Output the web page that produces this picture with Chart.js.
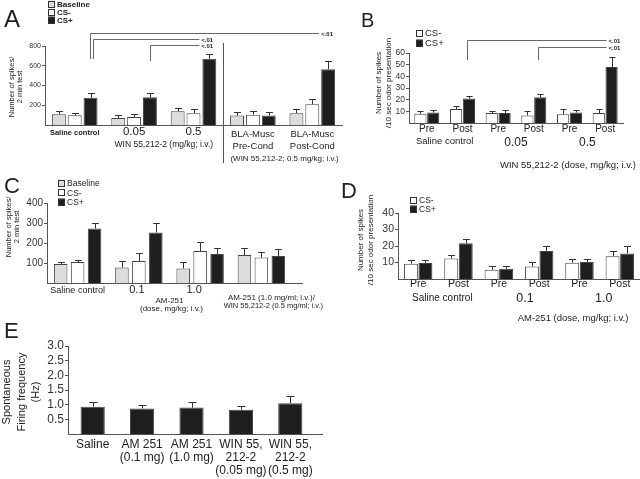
<!DOCTYPE html>
<html>
<head>
<meta charset="utf-8">
<script src="https://cdn.jsdelivr.net/npm/chart.js@4.4.0/dist/chart.umd.min.js"></script>
<style>
  body { margin: 0; background: #fff; }
  #wrap { position: relative; width: 640px; height: 479px; overflow: hidden; }
  #wrap canvas { position: absolute; left: 0; top: 0; }
</style>
</head>
<body>
<div id="wrap">
  <canvas id="cA" width="640" height="479"></canvas>
  <canvas id="cB" width="640" height="479"></canvas>
  <canvas id="cC" width="640" height="479"></canvas>
  <canvas id="cD" width="640" height="479"></canvas>
  <canvas id="cE" width="640" height="479"></canvas>
</div>
<script>
// ---- Panel A : WIN 55,212-2, number of spikes / 2 min test
const aGroups = [['Saline control'], ['0.05'], ['0.5'], ['BLA-Musc', 'Pre-Cond'], ['BLA-Musc', 'Post-Cond']];
const aTicks = [200, 400, 600, 800];
const aBaseline = [110, 70, 140, 95, 120];
const aBaselineErr = [28, 28, 35, 35, 45];
const aCsMinus = [100, 80, 120, 105, 210];
const aCsMinusErr = [20, 30, 45, 35, 55];
const aCsPlus = [275, 280, 670, 95, 565];
const aCsPlusErr = [50, 48, 50, 35, 80];

// ---- Panel B : WIN 55,212-2, spikes / 10 sec odor
const bPhases = ['Pre', 'Post', 'Pre', 'Post', 'Pre', 'Post'];
const bGroups = ['Saline control', '0.05', '0.5'];
const bTicks = [10, 20, 30, 40, 50, 60];
const bCsMinus = [8, 12, 8.5, 6.5, 7.5, 8.5];
const bCsMinusErr = [2.5, 2.5, 2, 4, 4.5, 3.5];
const bCsPlus = [9, 21, 8.5, 22, 9, 48];
const bCsPlusErr = [2, 2.5, 3, 3, 2.5, 9];

// ---- Panel C : AM-251, number of spikes / 2 min test
const cGroups = ['Saline control', '0.1', '1.0', 'AM-251/WIN'];
const cTicks = [100, 200, 300, 400];
const cBaseline = [95, 77, 73, 140];
const cBaselineErr = [8, 33, 30, 37];
const cCsMinus = [105, 110, 160, 127];
const cCsMinusErr = [8, 38, 43, 27];
const cCsPlus = [273, 252, 145, 135];
const cCsPlusErr = [27, 46, 28, 33];

// ---- Panel D : AM-251, spikes / 10 sec odor
const dPhases = ['Pre', 'Post', 'Pre', 'Post', 'Pre', 'Post'];
const dGroups = ['Saline control', '0.1', '1.0'];
const dTicks = [10, 20, 30, 40];
const dCsMinus = [9.3, 12.4, 5.6, 7.6, 9.9, 13.8];
const dCsMinusErr = [2, 2, 2.2, 2.7, 2.5, 3.1];
const dCsPlus = [9.7, 21.6, 6.2, 17, 10.3, 15.5];
const dCsPlusErr = [2.1, 2.4, 1.8, 3.1, 2.1, 4.5];

// ---- Panel E : spontaneous firing frequency
const eLabels = [['Saline'], ['AM 251', '(0.1 mg)'], ['AM 251', '(1.0 mg)'], ['WIN 55,', '212-2', '(0.05 mg)'], ['WIN 55,', '212-2', '(0.5 mg)']];
const eTicks = [0.5, 1.0, 1.5, 2.0, 2.5, 3.0];
const eRate = [0.93, 0.87, 0.9, 0.83, 1.05];
const eRateErr = [0.15, 0.13, 0.18, 0.14, 0.25];

const FONT = '"Liberation Sans", Arial, sans-serif';
const BASE_FILL = '#dcdcdc';
const MINUS_FILL = '#ffffff';
const PLUS_FILL = '#1e1e1e';
const INK = '#222';
const AXIS = '#555';

function font(size, bold) {
  return (bold ? 'bold ' : '') + size + 'px ' + FONT;
}

function txt(ctx, s, x, y, size, align, bold) {
  ctx.font = font(size, bold);
  ctx.textAlign = align || 'center';
  ctx.textBaseline = 'alphabetic';
  ctx.fillStyle = INK;
  ctx.fillText(s, x, y);
}

// rotated axis title, one column per line
function vtxt(ctx, lines, x0, gap, cy, size) {
  lines.forEach((s, i) => {
    ctx.save();
    ctx.translate(x0 + i * gap, cy);
    ctx.rotate(-Math.PI / 2);
    ctx.font = font(size);
    ctx.textAlign = 'center';
    ctx.textBaseline = 'middle';
    ctx.fillStyle = INK;
    ctx.fillText(s, 0, 0);
    ctx.restore();
  });
}

function bracket(ctx, x1, x2, yTop, yBot, label, size) {
  ctx.strokeStyle = '#666';
  ctx.lineWidth = 1;
  ctx.beginPath();
  ctx.moveTo(Math.round(x1) + 0.5, yBot);
  ctx.lineTo(Math.round(x1) + 0.5, yTop + 0.5);
  ctx.lineTo(x2, yTop + 0.5);
  ctx.stroke();
  ctx.font = font(size, true);
  ctx.textAlign = 'left';
  ctx.textBaseline = 'middle';
  ctx.fillStyle = INK;
  ctx.fillText(label, x2 + 2, yTop + 1);
}

function extendAxis(chart, toX) {
  const ctx = chart.ctx, a = chart.chartArea;
  ctx.strokeStyle = AXIS;
  ctx.lineWidth = 1;
  ctx.beginPath();
  ctx.moveTo(a.right, Math.round(a.bottom) + 0.5);
  ctx.lineTo(toX, Math.round(a.bottom) + 0.5);
  ctx.stroke();
}

// upper error bars from each dataset's errors array
const errorBars = {
  id: 'errorBars',
  afterDatasetsDraw(chart) {
    const ctx = chart.ctx, y = chart.scales.y;
    ctx.save();
    ctx.strokeStyle = '#333';
    ctx.lineWidth = 1;
    chart.data.datasets.forEach((ds, i) => {
      chart.getDatasetMeta(i).data.forEach((bar, j) => {
        const top = Math.round(y.getPixelForValue(ds.data[j] + ds.errors[j])) + 0.5;
        const x = Math.round(bar.x) + 0.5;
        const cap = Math.max(2, Math.min(4, bar.width / 4));
        ctx.beginPath();
        ctx.moveTo(x, bar.y);
        ctx.lineTo(x, top);
        ctx.moveTo(x - cap, top);
        ctx.lineTo(x + cap, top);
        ctx.stroke();
      });
    });
    ctx.restore();
  }
};

// small square legend, stacked vertically
const boxLegend = {
  id: 'boxLegend',
  afterDraw(chart, args, o) {
    const ctx = chart.ctx;
    chart.data.datasets.forEach((ds, i) => {
      const cy = o.y + i * o.gap;
      ctx.fillStyle = ds.backgroundColor;
      ctx.fillRect(o.x, cy - o.box / 2, o.box, o.box);
      ctx.strokeStyle = '#333';
      ctx.lineWidth = 1;
      ctx.strokeRect(o.x + 0.5, Math.round(cy - o.box / 2) + 0.5, o.box - 1, o.box - 1);
      txt(ctx, ds.label, o.x + o.box + 2, cy + o.size * 0.36, o.size, 'left', o.bold);
    });
  }
};

function yAxis(max, ticks, size, fmt) {
  return {
    min: 0,
    max: max,
    afterBuildTicks: s => { s.ticks = ticks.map(v => ({ value: v })); },
    afterFit: s => { s.width = 40; },
    ticks: { font: { family: FONT, size: size }, color: '#333', padding: 1, callback: fmt || (v => v) },
    grid: { drawOnChartArea: false, drawTicks: true, tickLength: 3, color: AXIS },
    border: { color: AXIS, width: 1 }
  };
}

function xAxis() {
  return {
    ticks: { display: false },
    grid: { display: false },
    border: { color: AXIS, width: 1 },
    afterFit: s => { s.height = 0; }
  };
}

function opts(p) {
  return {
    responsive: false,
    animation: false,
    devicePixelRatio: 1,
    layout: { padding: p.padding },
    datasets: { bar: { categoryPercentage: p.cat, barPercentage: p.bar, borderColor: '#444', borderWidth: 1 } },
    plugins: { legend: { display: false }, tooltip: { enabled: false }, boxLegend: p.legend || false },
    scales: { x: xAxis(), y: yAxis(p.yMax, p.yTicks, p.tickSize, p.fmt) }
  };
}

// ---------------- Panel A
const panelA = {
  id: 'panelA',
  afterDraw(chart) {
    const ctx = chart.ctx, xs = chart.scales.x, b = chart.chartArea.bottom;
    const cx = i => xs.getPixelForValue(i);
    const plus = chart.getDatasetMeta(2).data;
    txt(ctx, 'A', 4, 27, 24, 'left');
    vtxt(ctx, ['Number of spikes/', '2 min test'], 12, 8, 87, 7.5);
    txt(ctx, aGroups[0][0], cx(0), b + 10, 7.5, 'center', true);
    txt(ctx, aGroups[1][0], cx(1), b + 10, 11.5);
    txt(ctx, aGroups[2][0], cx(2), b + 10, 11.5);
    [3, 4].forEach(i => {
      txt(ctx, aGroups[i][0], cx(i), b + 12, 9.5);
      txt(ctx, aGroups[i][1], cx(i), b + 24, 9.5);
    });
    txt(ctx, 'WIN 55,212-2 (mg/kg; i.v.)', (cx(1) + cx(2)) / 2, b + 22, 8.5);
    txt(ctx, '(WIN 55,212-2; 0.5 mg/kg; i.v.)', (cx(3) + cx(4)) / 2 + 2, b + 36, 8);
    // divider between WIN doses and BLA-Musc groups
    const dx = Math.round((cx(2) + cx(3)) / 2) + 0.5;
    ctx.strokeStyle = AXIS;
    ctx.beginPath();
    ctx.moveTo(dx, 43);
    ctx.lineTo(dx, 163);
    ctx.stroke();
    bracket(ctx, plus[0].x - 1, plus[4].x - 9, 33, 59, '<.01', 6);
    bracket(ctx, plus[0].x + 2, plus[2].x - 10, 39, 59, '<.01', 6);
    bracket(ctx, plus[1].x, plus[2].x - 10, 45, 61, '<.01', 6);
  }
};

new Chart(document.getElementById('cA'), {
  type: 'bar',
  data: {
    labels: aGroups.map(g => g.join(' ')),
    datasets: [
      { label: 'Baseline', data: aBaseline, errors: aBaselineErr, backgroundColor: BASE_FILL },
      { label: 'CS-', data: aCsMinus, errors: aCsMinusErr, backgroundColor: MINUS_FILL },
      { label: 'CS+', data: aCsPlus, errors: aCsPlusErr, backgroundColor: PLUS_FILL }
    ]
  },
  options: opts({
    padding: { left: 5, top: 46, right: 298, bottom: 354 },
    yMax: 800, yTicks: aTicks, tickSize: 7, cat: 0.8, bar: 0.88,
    legend: { x: 48, y: 4, gap: 8, box: 7, size: 8, bold: true }
  }),
  plugins: [errorBars, boxLegend, panelA]
});

// ---------------- Panel B
const panelB = {
  id: 'panelB',
  afterDraw(chart) {
    const ctx = chart.ctx, xs = chart.scales.x, b = chart.chartArea.bottom;
    const cx = i => xs.getPixelForValue(i);
    const plus = chart.getDatasetMeta(1).data;
    txt(ctx, 'B', 361, 27, 20, 'left');
    vtxt(ctx, ['Number of spikes', '/10 sec odor presentation'], 379, 10, 83, 8);
    bPhases.forEach((s, i) => txt(ctx, s, cx(i), b + 8.5, 10));
    txt(ctx, bGroups[0], (cx(0) + cx(1)) / 2, b + 21, 9.5);
    txt(ctx, bGroups[1], (cx(2) + cx(3)) / 2, b + 23, 12);
    txt(ctx, bGroups[2], (cx(4) + cx(5)) / 2, b + 23, 12);
    txt(ctx, 'WIN 55,212-2 (dose, mg/kg; i.v.)', 568, b + 45, 9.5);
    bracket(ctx, plus[1].x - 2, plus[5].x - 5, 40, 60, '<.01', 6);
    bracket(ctx, plus[3].x - 2, plus[5].x - 5, 47, 60, '<.01', 6);
  }
};

new Chart(document.getElementById('cB'), {
  type: 'bar',
  data: {
    labels: bPhases,
    datasets: [
      { label: 'CS-', data: bCsMinus, errors: bCsMinusErr, backgroundColor: MINUS_FILL },
      { label: 'CS+', data: bCsPlus, errors: bCsPlusErr, backgroundColor: PLUS_FILL }
    ]
  },
  options: opts({
    padding: { left: 369, top: 53, right: 17, bottom: 356 },
    yMax: 60, yTicks: bTicks, tickSize: 8.5, cat: 0.72, bar: 0.95,
    legend: { x: 416, y: 33, gap: 10, box: 7, size: 9.5 }
  }),
  plugins: [errorBars, boxLegend, panelB]
});

// ---------------- Panel C
const panelC = {
  id: 'panelC',
  afterDraw(chart) {
    const ctx = chart.ctx, xs = chart.scales.x, b = chart.chartArea.bottom;
    const cx = i => xs.getPixelForValue(i);
    extendAxis(chart, 303);
    txt(ctx, 'C', 4, 193, 22, 'left');
    vtxt(ctx, ['Number of spikes/', '2 min test'], 9, 8, 227, 7.5);
    txt(ctx, cGroups[0], cx(0), b + 10, 9);
    txt(ctx, cGroups[1], cx(1) - 2, b + 10, 11);
    txt(ctx, cGroups[2], cx(2) - 6, b + 10, 11);
    txt(ctx, 'AM-251', (cx(1) + cx(2)) / 2, b + 19.5, 8);
    txt(ctx, '(dose, mg/kg; i.v.)', (cx(1) + cx(2)) / 2 + 2, b + 27.5, 8);
    txt(ctx, 'AM-251 (1.0 mg/ml; i.v.)/', cx(3) + 10, b + 17, 8);
    txt(ctx, 'WIN 55,212-2 (0.5 mg/ml; i.v.)', cx(3) + 12, b + 24.5, 7.5);
  }
};

new Chart(document.getElementById('cC'), {
  type: 'bar',
  data: {
    labels: cGroups,
    datasets: [
      { label: 'Baseline', data: cBaseline, errors: cBaselineErr, backgroundColor: BASE_FILL },
      { label: 'CS-', data: cCsMinus, errors: cCsMinusErr, backgroundColor: MINUS_FILL },
      { label: 'CS+', data: cCsPlus, errors: cCsPlusErr, backgroundColor: PLUS_FILL }
    ]
  },
  options: opts({
    padding: { left: 7, top: 203, right: 348, bottom: 196 },
    yMax: 400, yTicks: cTicks, tickSize: 10, cat: 0.83, bar: 0.8,
    legend: { x: 58, y: 183, gap: 9.5, box: 7, size: 8.5 }
  }),
  plugins: [errorBars, boxLegend, panelC]
});

// ---------------- Panel D
const panelD = {
  id: 'panelD',
  afterDraw(chart) {
    const ctx = chart.ctx, xs = chart.scales.x, b = chart.chartArea.bottom;
    const cx = i => xs.getPixelForValue(i);
    txt(ctx, 'D', 341, 198, 22, 'left');
    vtxt(ctx, ['Number of spikes', '/10 sec odor presentation'], 361, 10, 240, 8);
    dPhases.forEach((s, i) => txt(ctx, s, cx(i), b + 8, 10.5));
    txt(ctx, dGroups[0], (cx(0) + cx(1)) / 2 + 4, b + 22, 10);
    txt(ctx, dGroups[1], (cx(2) + cx(3)) / 2 + 6, b + 22.5, 12.5);
    txt(ctx, dGroups[2], (cx(4) + cx(5)) / 2 + 4, b + 22.5, 12.5);
    txt(ctx, 'AM-251 (dose, mg/kg; i.v.)', 573, b + 42, 9.5);
  }
};

new Chart(document.getElementById('cD'), {
  type: 'bar',
  data: {
    labels: dPhases,
    datasets: [
      { label: 'CS-', data: dCsMinus, errors: dCsMinusErr, backgroundColor: MINUS_FILL },
      { label: 'CS+', data: dCsPlus, errors: dCsPlusErr, backgroundColor: PLUS_FILL }
    ]
  },
  options: opts({
    padding: { left: 358, top: 213, right: 0, bottom: 200 },
    yMax: 40, yTicks: dTicks, tickSize: 10.5, cat: 0.72, bar: 0.96,
    legend: { x: 410, y: 200, gap: 9, box: 7, size: 8.5 }
  }),
  plugins: [errorBars, boxLegend, panelD]
});

// ---------------- Panel E
const panelE = {
  id: 'panelE',
  afterDraw(chart) {
    const ctx = chart.ctx, xs = chart.scales.x, b = chart.chartArea.bottom;
    extendAxis(chart, 323);
    txt(ctx, 'E', 4, 338, 22, 'left');
    vtxt(ctx, ['Spontaneous', 'Firing frequency', '(Hz)'], 7, 14.5, 392, 11);
    eLabels.forEach((lines, i) => {
      lines.forEach((s, k) => txt(ctx, s, xs.getPixelForValue(i), b + 14 + k * 13, 12));
    });
  }
};

new Chart(document.getElementById('cE'), {
  type: 'bar',
  data: {
    labels: eLabels.map(l => l.join(' ')),
    datasets: [
      { label: 'Firing frequency', data: eRate, errors: eRateErr, backgroundColor: PLUS_FILL }
    ]
  },
  options: opts({
    padding: { left: 28, top: 346, right: 325, bottom: 45 },
    yMax: 3, yTicks: eTicks, tickSize: 12, cat: 1, bar: 0.49,
    fmt: v => v.toFixed(1)
  }),
  plugins: [errorBars, panelE]
});
</script>
</body>
</html>
